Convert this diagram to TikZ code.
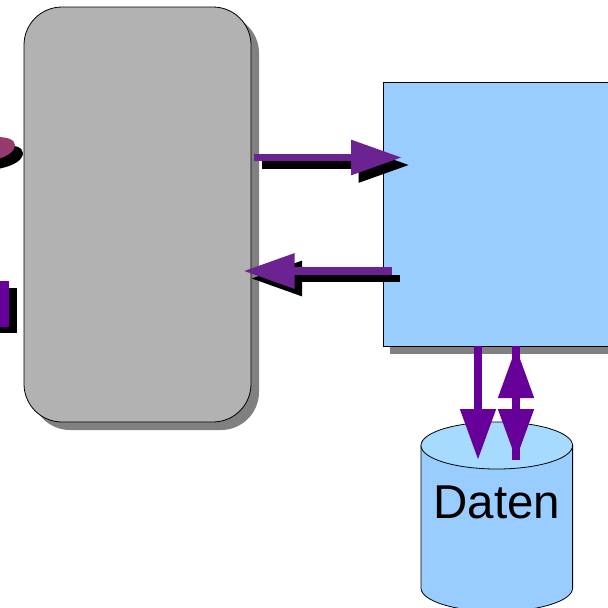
\documentclass[tikz,border=0pt]{standalone}
\usepackage{fontspec}
\setmainfont{Liberation Sans}
\usetikzlibrary{arrows.meta}
\definecolor{boxgray}{HTML}{B2B2B2}
\definecolor{shadowgray}{HTML}{808080}
\definecolor{boxblue}{HTML}{99CCFF}
\definecolor{topblue}{HTML}{A6DBFF}
\definecolor{violetA}{HTML}{6B2391}
\definecolor{violetB}{HTML}{660099}
\definecolor{plum}{HTML}{963A6E}
\tikzset{
  boxshape/.style={inner sep=0pt,outer sep=0pt,line width=0.8pt,draw=black},
  shadowshape/.style={inner sep=0pt,outer sep=0pt,fill=shadowgray,draw=none},
  hz/.style={line width=7.6pt,-{Triangle[length=51pt,width=33.5pt]}},
  vt/.style={line width=8pt,draw=violetB,-{Triangle[length=51pt,width=34pt]}},
  pebble/.pic={\fill[pic actions] (-8,137) .. controls (6,136.5) and (15,139) .. (15,145) .. controls (15,152) and (6,157.5) .. (-8,160.5) -- cycle;},
}
\begin{document}
\begin{tikzpicture}[x=1pt,y=-1pt]
\useasboundingbox (0,0) rectangle (608,608);
\clip (0,0) rectangle (608,608);
\fill[white] (0,0) rectangle (608,608);
% gray box
\node[shadowshape,rounded corners=38pt,minimum width=227pt,minimum height=415pt] (grayshadow) at (145.5,222.5) {};
\node[boxshape,fill=boxgray,rounded corners=38pt,minimum width=227pt,minimum height=415pt] (graybox) at (137.5,214.5) {};
% blue box
\node[shadowshape,minimum width=240pt,minimum height=264pt] (blueshadow) at (510,222) {};
\node[boxshape,fill=boxblue,minimum width=240pt,minimum height=264pt] (bluebox) at (503,214) {};
% cylinder
\draw[line width=0.8pt,fill=boxblue] (421,445.5) -- (421,588) arc[start angle=180,end angle=360,x radius=75.8pt,y radius=23.5pt] -- (572.6,445.5) -- cycle;
\draw[line width=0.8pt,fill=topblue] (496.8,445.5) ellipse[x radius=75.8pt,y radius=23.5pt];
\node[inner sep=0pt,anchor=base,font=\fontsize{47.5}{48}\selectfont] (daten) at (497,518) {Daten};
% cut-off shapes at the left edge
\pic[fill=black] at (8,8) {pebble};
\pic[fill=plum] at (0,0) {pebble};
\node[inner sep=0pt,outer sep=0pt,fill=black,minimum width=30pt,minimum height=45.5pt] (rectshadow) at (1.5,310.5) {};
\node[inner sep=0pt,outer sep=0pt,fill=violetB,minimum width=30pt,minimum height=46pt] (rectfront) at (-6,304) {};
% coordinates
\coordinate (aS) at (254,157.5);
\coordinate (aE) at (402,157.5);
\coordinate (aSs) at (261.5,165);
\coordinate (aEs) at (409.5,165);
\coordinate (bS) at (392,271);
\coordinate (bE) at (243.5,271);
\coordinate (bSs) at (399.5,278.5);
\coordinate (bEs) at (251,278.5);
\coordinate (cS) at (478,346);
\coordinate (cE) at (478,460);
\coordinate (dS) at (516,346);
\coordinate (dE) at (516,460);
\coordinate (eS) at (516,460);
\coordinate (eE) at (516,347);
% horizontal arrows
\draw[hz,black] (aSs) -- (aEs);
\draw[hz,violetA] (aS) -- (aE);
\draw[hz,black] (bSs) -- (bEs);
\draw[hz,violetA] (bS) -- (bE);
% vertical arrows
\draw[vt] (cS) -- (cE);
\draw[vt] (eS) -- (eE);
\draw[vt] (dS) -- (dE);
\draw[line width=8pt,draw=violetB] (dS) -- (dE);
\end{tikzpicture}
\end{document}
